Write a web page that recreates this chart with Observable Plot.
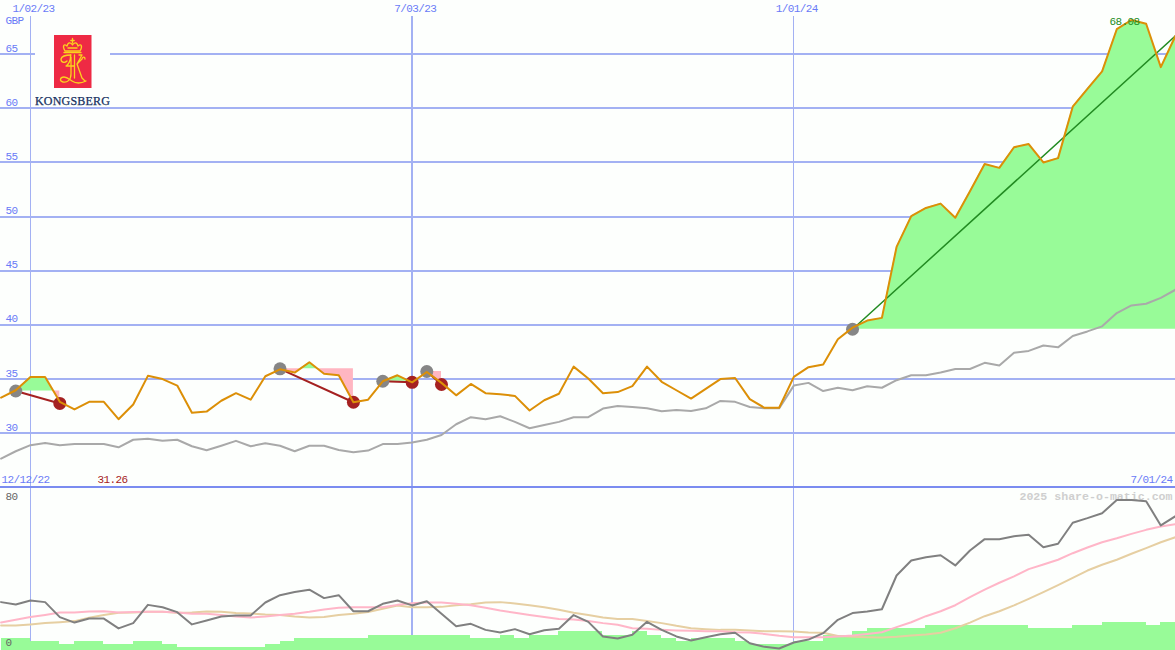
<!DOCTYPE html>
<html>
<head>
<meta charset="utf-8">
<script src="https://cdn.jsdelivr.net/npm/d3@7"></script>
<script src="https://cdn.jsdelivr.net/npm/@observablehq/plot@0.6"></script>
<style>
  html, body { margin: 0; padding: 0; background: #fdfffd; }
  #wrap { position: relative; width: 1175px; height: 650px; overflow: hidden; }
  #wrap svg.plot-panel { display: block; background: transparent; }
  #logo { position: absolute; left: 35px; top: 34px; width: 75px; height: 73px; background: #fdfffd; }
</style>
</head>
<body>
<div id="wrap"></div>
<script>
const price = [33.29,33.97,35.2,35.2,32.9,32.2,32.9,32.9,31.3,32.65,35.3,35.0,34.4,31.9,32.0,33.0,33.7,33.1,35.26,35.9,35.6,36.55,35.5,35.35,32.86,33.1,34.8,35.35,34.7,35.65,34.65,33.5,34.55,33.7,33.6,33.45,32.1,33.05,33.65,36.15,35.05,33.7,33.8,34.35,36.15,34.75,33.97,33.2,34.1,35.0,35.1,33.15,32.35,32.35,35.2,36.1,36.35,38.67,39.75,40.4,40.65,47.2,50.05,50.8,51.2,49.9,52.35,54.85,54.5,56.4,56.7,55.0,55.4,60.15,61.8,63.4,67.3,68.15,67.8,63.8,66.7];
const average = [27.66,28.34,28.9,29.1,28.9,29.0,29.0,29.0,28.7,29.4,29.5,29.3,29.4,28.8,28.43,28.85,29.3,28.8,29.08,28.85,28.34,28.85,28.85,28.46,28.25,28.4,29.0,29.0,29.14,29.4,29.84,30.83,31.48,31.3,31.57,31.05,30.46,30.77,31.05,31.48,31.48,32.28,32.52,32.43,32.3,32.03,32.15,32.06,32.3,32.98,32.9,32.43,32.3,32.3,34.4,34.65,33.9,34.2,33.97,34.34,34.2,34.9,35.35,35.35,35.6,35.93,35.93,36.5,36.25,37.44,37.6,38.1,37.93,38.98,39.4,39.87,41.1,41.8,41.96,42.5,43.25];
const oscillator = [25.4,24.1,26.3,25.4,17.2,14.2,16.4,16.4,11,13.9,23.9,22.6,19.9,13.2,15.3,17.5,18.1,18.1,25.2,29.2,30.9,32.2,27.6,29.2,20.4,20.4,24.5,26.3,23.6,25.9,19,12.2,13.5,10.2,8.8,10.6,7.8,10,10.8,18.3,14.6,6.6,5.5,7.5,14.6,10.2,6.6,4.4,6.2,7.8,8.6,2.9,0.9,0,3.3,4.9,8.4,15.7,19.4,20.3,21.5,40,48.2,50,51.1,45.5,53.7,59.9,59.9,61.5,62.3,55.5,57.4,68.9,71.4,74.1,81.3,81.3,80.7,67.4,72.5];
const fastAverage = [14.2,15.7,17.2,18.4,19.7,19.7,20.3,20.4,19.7,20,20.1,20.1,19.7,19,19,18.4,17.5,17,17.5,18.3,19,20.1,21.4,22.3,22.6,22.6,22.6,23.9,24.8,25.2,25.2,24.5,23.7,22.3,20.8,19.6,18.4,17.2,16.1,15.9,15,13.9,13,11.1,10.8,10.2,9.9,9.7,9.5,9.5,8.9,8.8,8,7,6.2,6.2,6.2,6.6,7.1,8,8.9,11.7,14.4,17.7,20.4,23.7,28.1,32.2,36,39.5,43.5,46,48.6,52.2,55.3,58.2,60.4,62.8,65,66.8,68.1];
const slowAverage = [12.6,12.6,13.2,13.9,14.4,15,16.8,18.4,19.6,19.7,20.1,20.1,19.6,19.7,20.3,20.1,19.4,19.2,18.6,18.3,17.5,17,17.3,18.3,19,20,21.8,23.6,22.6,22.6,22.8,23.7,24.3,25.2,25.4,24.7,23.7,22.6,21.2,19.6,18.3,17,16.1,16.1,15,13.9,12.4,11.1,10.6,10.2,10.2,9.9,9.5,9.5,9.3,8.8,8.6,6.8,6.4,6.2,6,6.4,7.1,7.7,8.6,11.1,14.2,17.7,20.4,23.6,27.2,30.9,34.7,38.7,42.7,45.9,48.6,51.9,55,58.2,61];
const volume = [5.5,5.5,3.8,3.8,2.2,3.8,3.8,2.2,2.2,3.8,3.8,2.2,0.5,0.5,0.5,0.5,0.5,0.5,2.2,3.8,5.5,5.5,5.5,5.5,5.5,7.1,7.1,7.1,7.1,7.1,7.1,7.1,5.5,5.5,7.1,5.5,7.1,7.1,9.3,9.3,9.3,7.1,7.1,9.3,7.1,5.5,3.8,5.5,5.5,5.5,3.8,2.2,2.2,2.2,3.8,3.8,7.1,7.1,9.3,11,11,11,11,12.6,12.6,12.6,12.6,12.6,12.6,12.6,11,11,11,12.6,12.6,14.2,14.2,14.2,12.6,14.2,14.2];

const tradeStart = [1,19,26,29,58];
const tradeEnd = [4,24,28,30,80];
const tradeEntry = [33.9,35.95,34.8,35.7,39.6];
const tradeExit = [32.75,32.86,34.7,34.5,66.7];
const tradeOpen = [false,false,false,false,true];

const dateTicks = [2,28,54];
const dateLabels = ["1/02/23","7/03/23","1/01/24"];
const priceTicks = [30,35,40,45,50,55,60,65];
const oscTicks = [0,80];

const WIDTH = 1175, TOP_H = 488, LOW_H = 162;
const FONT = "'Liberation Mono','DejaVu Sans Mono',monospace";
const BLUE = "#6a7bf7", GRID = "#a3b1f3", RULE = "#7b8cf0";
const GREEN = "#98fb98", PINK = "#ffb6c1", RED = "#a52121", DKGREEN = "#228b22";
const X = {type: "linear", domain: [-0.04, 80], range: [0, WIDTH]};
const TEXT_STYLE = {background: "transparent", fontFamily: FONT, fontSize: "11px", letterSpacing: "-0.6px"};

const indices = d3.range(price.length);
const tradeIdx = d3.range(tradeStart.length);

// Fill rows for a trade: price against entry level, with the crossings added so that
// the green and pink fills meet where the price line meets the level.
function fillRows(t) {
  const level = tradeEntry[t], rows = [];
  for (let i = tradeStart[t]; i <= tradeEnd[t]; i++) {
    rows.push({i, p: price[i]});
    if (i < tradeEnd[t] && (price[i] - level) * (price[i + 1] - level) < 0) {
      rows.push({i: i + (level - price[i]) / (price[i + 1] - price[i]), p: level});
    }
  }
  return rows.map(r => ({i: r.i, level, hi: Math.max(r.p, level), lo: Math.min(r.p, level)}));
}
const fillMarks = tradeIdx.flatMap(t => {
  const rows = fillRows(t);
  return [
    Plot.areaY(rows, {x: "i", y1: "level", y2: "hi", fill: GREEN}),
    Plot.areaY(rows, {x: "i", y1: "level", y2: "lo", fill: PINK})
  ];
});

const upperPanel = Plot.plot({
  className: "plot-panel",
  width: WIDTH, height: TOP_H,
  margin: 0,
  style: TEXT_STYLE,
  x: {...X, axis: null},
  y: {domain: [24.9, 69.95], range: [TOP_H, 0], axis: null},
  marks: [
    Plot.ruleY(priceTicks, {stroke: GRID, strokeWidth: 2, shapeRendering: "crispEdges"}),
    Plot.ruleX(dateTicks, {stroke: GRID, strokeWidth: (d, i) => i === 1 ? 2 : 1, insetTop: 16, shapeRendering: "crispEdges"}),
    Plot.ruleY([25.06], {stroke: RULE, strokeWidth: 2, shapeRendering: "crispEdges"}),
    ...fillMarks,
    Plot.line(indices, {x: d => d, y: d => average[d], stroke: "#a9a9a9", strokeWidth: 2}),
    Plot.line(tradeIdx.flatMap(t => [{t, i: tradeStart[t], v: tradeEntry[t]}, {t, i: tradeEnd[t], v: tradeExit[t]}]),
      {x: "i", y: "v", z: "t", stroke: d => tradeOpen[d.t] ? DKGREEN : RED, strokeWidth: d => tradeOpen[d.t] ? 1.5 : 2}),
    Plot.dot(tradeIdx, {x: t => tradeStart[t], y: t => tradeEntry[t], r: 6.5, fill: "#868686"}),
    Plot.dot(tradeIdx.filter(t => !tradeOpen[t]), {x: t => tradeEnd[t], y: t => tradeExit[t], r: 6.5, fill: RED}),
    Plot.line(indices, {x: d => d, y: d => price[d], stroke: "#dc8f07", strokeWidth: 2}),
    Plot.axisY(priceTicks, {anchor: "left", tickSize: 0, tickPadding: -5, textAnchor: "start", dy: -6, fill: BLUE, label: null, fontSize: 11}),
    Plot.axisX(dateTicks, {anchor: "top", tickSize: 0, tickPadding: -11, dx: 3, fill: BLUE, label: null, tickFormat: d => dateLabels[dateTicks.indexOf(d)], fontSize: 11}),
    Plot.text(["GBP"], {frameAnchor: "top-left", dx: 5, dy: 16, fill: BLUE, fontSize: 11}),
    Plot.text(["12/12/22"], {frameAnchor: "bottom-left", dx: 1, dy: -6, fill: BLUE, fontSize: 11}),
    Plot.text(["7/01/24"], {frameAnchor: "bottom-right", dx: -3, dy: -6, fill: BLUE, fontSize: 11}),
    Plot.text(["31.26"], {x: 8, frameAnchor: "bottom", dx: -6, dy: -6, fill: RED, fontSize: 11}),
    Plot.text(["68.08"], {x: 77, y: 68.15, dx: -7, dy: 1, fill: DKGREEN, fontSize: 11})
  ]
});

const lowerPanel = Plot.plot({
  className: "plot-panel",
  width: WIDTH, height: LOW_H,
  margin: 0,
  style: TEXT_STYLE,
  x: {...X, axis: null},
  y: {domain: [-1.1, 87.65], range: [LOW_H, 0], axis: null},
  marks: [
    Plot.ruleX(dateTicks, {stroke: GRID, strokeWidth: (d, i) => i === 1 ? 2 : 1, shapeRendering: "crispEdges"}),
    Plot.rectY(indices, {x1: d => d, x2: d => Math.min(d + 1, 80), y1: -1.1, y2: d => volume[d], fill: GREEN, shapeRendering: "crispEdges"}),
    Plot.text(["2025 share-o-matic.com"], {frameAnchor: "top-right", dx: -3, dy: 3, fill: "#cfcfcf", fontWeight: "bold", fontSize: 11.6}),
    Plot.line(indices, {x: d => d, y: d => slowAverage[d], stroke: "#e6cfa2", strokeWidth: 2}),
    Plot.line(indices, {x: d => d, y: d => fastAverage[d], stroke: "#ffb6c8", strokeWidth: 2}),
    Plot.line(indices, {x: d => d, y: d => oscillator[d], stroke: "#808080", strokeWidth: 2}),
    Plot.axisY(oscTicks, {anchor: "left", tickSize: 0, tickPadding: -5, textAnchor: "start", dy: -6, fill: "#666666", label: null, fontSize: 11})
  ]
});

// The watermark has its own wider pitch.
lowerPanel.querySelectorAll("text").forEach(t => {
  if (t.textContent.startsWith("2025")) t.style.letterSpacing = "0";
});

const wrap = document.getElementById("wrap");
wrap.append(upperPanel, lowerPanel);

const logo = document.createElement("div");
logo.id = "logo";
logo.innerHTML = `<svg width="75" height="73" viewBox="0 0 75 73" xmlns="http://www.w3.org/2000/svg">
  <rect x="19" y="1" width="37.5" height="53" fill="#ee2a44"/>
  <g fill="none" stroke="#fbd21e" stroke-width="1.3" stroke-linecap="round" stroke-linejoin="round">
    <path d="M30 17 C27 12 29 9 32 12 C33 8 36 8 37.5 11 C39 8 42 8 43 12 C46 9 48 12 45 17 Z"/>
    <path d="M37.5 4.5 V9 M35.8 6.5 H39.2 M33 14 H42"/>
    <path d="M29 18.5 H46"/>
    <path d="M26 25 C27 21 32 21 36 21 M26 25 C26 29 30 29 32 27"/>
    <path d="M35.5 21 C36 27 33 31 31 32 H39 M36 23 V40 C36 46 32 49 28 48 C24 47 25 43 29 43 C32 43 34 45 37 47 C40 49 45 50 51 47"/>
    <path d="M39.5 21 V44 M44 21 H47 L42 30 L47 44 L50 47 M42 30 L47 25 C48 22 50 23 50 25"/>
  </g>
  <text x="0" y="71" font-family="'Liberation Serif',serif" font-size="12" fill="#16305f" stroke="#16305f" stroke-width="0.25" textLength="75" lengthAdjust="spacing">KONGSBERG</text>
</svg>`;
wrap.append(logo);
</script>
</body>
</html>
